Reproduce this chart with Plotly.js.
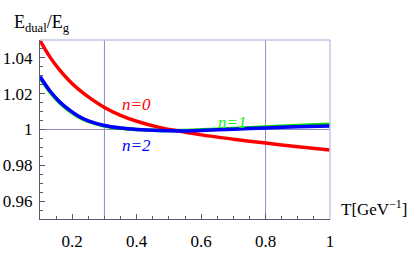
<!DOCTYPE html>
<html><head><meta charset="utf-8">
<script src="https://cdn.plot.ly/plotly-3.0.1.min.js"></script>
<style>html,body{margin:0;padding:0;background:#fff}#c{width:413px;height:255px}</style>
</head><body><div id="c"></div>
<script>
const T  = [0.1,0.13,0.16,0.19,0.22,0.25,0.3,0.35,0.4,0.47,0.53,0.6,0.7,0.8,0.9,1.0];
const n0 = [1.0497,1.0407,1.0334,1.0274,1.0224,1.0182,1.0123,1.0079,1.0046,1.0012,0.9992,0.9970,0.9946,0.9924,0.9904,0.9885];
const n1 = [1.0288,1.0211,1.0151,1.0106,1.0070,1.0045,1.0020,1.0007,1.0000,0.9995,0.9994,0.9998,1.0006,1.0014,1.0022,1.0030];
const n2 = [1.0296,1.0218,1.0157,1.0111,1.0074,1.0048,1.0022,1.0008,1.0000,0.9994,0.9992,0.9995,1.0002,1.0009,1.0015,1.0020];
const gridX = [0.3, 0.8];
const gridY = [1];
const xTicks = [0.2,0.4,0.6,0.8,1];
const xTickText = ['0.2','0.4','0.6','0.8','1'];
const yTicks = [0.96,0.98,1,1.02,1.04];
const yTickText = ['0.96','0.98','1','1.02','1.04'];
const labels = [{t:'n=0',x:0.40,y:1.0140,c:'#ff0000'},{t:'n=1',x:0.696,y:1.0040,c:'#22ee22'},{t:'n=2',x:0.398,y:0.9913,c:'#0000ff'}];

const SERIF = 'Times New Roman';
const traces = [
 {x:T,y:n1,mode:'lines',line:{color:'#00dd00',width:3.5,shape:'spline',smoothing:0.8}},
 {x:T,y:n0,mode:'lines',line:{color:'#ff0000',width:3.5,shape:'spline',smoothing:0.8}},
 {x:T,y:n2,mode:'lines',line:{color:'#0000ff',width:3.5,shape:'spline',smoothing:0.8}}
];
const shapes = [];
gridX.forEach(v=>shapes.push({type:'line',xref:'x',yref:'paper',x0:v,x1:v,y0:0,y1:1,line:{color:'#8c8cc0',width:1},layer:'below'}));
gridY.forEach(v=>shapes.push({type:'line',xref:'paper',yref:'y',x0:0,x1:1,y0:v,y1:v,line:{color:'#8c8cc0',width:1},layer:'below'}));
shapes.push({type:'line',xref:'paper',yref:'paper',x0:0,x1:1,y0:1,y1:1,line:{color:'#c4c4e4',width:1.5}});
shapes.push({type:'line',xref:'paper',yref:'paper',x0:1,x1:1,y0:0,y1:1,line:{color:'#c4c4e4',width:1.5}});

const ann = labels.map(l=>({text:'<i>'+l.t+'</i>',x:l.x,y:l.y,xref:'x',yref:'y',showarrow:false,font:{family:SERIF,size:17,color:l.c}}));
ann.push({text:'E<sub>dual</sub>/E<sub>g</sub>',xref:'paper',yref:'paper',x:-0.097,y:1.09,xanchor:'left',yanchor:'middle',showarrow:false,font:{family:SERIF,size:18,color:'#000'}});
ann.push({text:'T[GeV<sup>\u22121</sup>]',xref:'paper',yref:'paper',x:1.03,y:0.06,xanchor:'left',yanchor:'middle',showarrow:false,font:{family:SERIF,size:17,color:'#000'}});

const layout = {
 width:413,height:255,margin:{l:40,r:83,t:40,b:36},
 paper_bgcolor:'#fff',plot_bgcolor:'#fff',showlegend:false,
 font:{family:SERIF,size:17,color:'#000'},
 xaxis:{range:[0.1,1.0],showgrid:false,zeroline:false,showline:true,linecolor:'#5a5a70',linewidth:1.2,
   tickvals:xTicks,ticktext:xTickText,ticks:'inside',ticklen:5,tickcolor:'#5a5a70',ticklabelstandoff:6,
   tickfont:{family:SERIF,size:17,color:'#000'},
   minor:{ticks:'inside',ticklen:3,dtick:0.05,tick0:0,tickcolor:'#5a5a70',showgrid:false}},
 yaxis:{range:[0.95,1.05],showgrid:false,zeroline:false,showline:true,linecolor:'#5a5a70',linewidth:1.2,
   tickvals:yTicks,ticktext:yTickText,ticks:'inside',ticklen:5,tickcolor:'#5a5a70',ticklabelstandoff:3,
   tickfont:{family:SERIF,size:17,color:'#000'},
   minor:{ticks:'inside',ticklen:3,dtick:0.005,tick0:0,tickcolor:'#5a5a70',showgrid:false}},
 shapes:shapes,annotations:ann
};
Plotly.newPlot('c',traces,layout,{staticPlot:true,displayModeBar:false});
</script></body></html>
